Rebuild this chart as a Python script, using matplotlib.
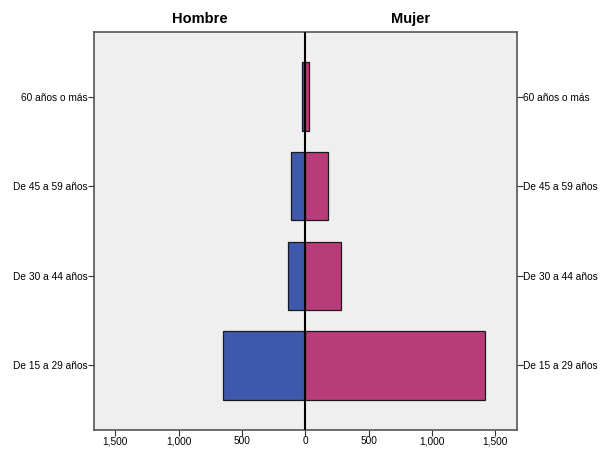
import matplotlib
matplotlib.use("Agg")
import matplotlib.pyplot as plt
from matplotlib.ticker import FixedLocator, FuncFormatter

plt.rcParams['font.family'] = ['Liberation Sans', 'DejaVu Sans']

categories = ["De 15 a 29 años", "De 30 a 44 años", "De 45 a 59 años", "60 años o más"]
hombre = [653, 134, 116, 29]
mujer = [1415, 282, 176, 32]
xticks = [-1500, -1000, -500, 0, 500, 1000, 1500]

fig = plt.figure(figsize=(6.01, 4.49), dpi=100)
ax = fig.add_axes([94/601, 19/449, 422.7/601, 398/449])
ax.set_facecolor("#efefef")

pos = list(range(len(categories)))
ax.barh(pos, [-h for h in hombre], height=0.76, color="#3e58ac",
        edgecolor="#1a1a1a", linewidth=0.9, zorder=2)
ax.barh(pos, mujer, height=0.76, color="#b93c7a",
        edgecolor="#1a1a1a", linewidth=0.9, zorder=2)
ax.axvline(0, color="black", linewidth=1.5, zorder=3)

ax.set_xlim(-1668, 1668)
ax.set_ylim(-0.72, 3.72)
ax.xaxis.set_major_locator(FixedLocator(xticks))
ax.xaxis.set_major_formatter(FuncFormatter(lambda v, p: f"{abs(int(v)):,}"))
ax.set_yticks(pos)
ax.set_yticklabels(categories)
ax.tick_params(axis='both', labelsize=7.3, length=4, width=0.8, color="#333333",
               direction='out', pad=0.5)
ax.tick_params(axis='y', left=True, right=True, labelleft=True, labelright=True)

for s in ax.spines.values():
    s.set_color("#555555")
    s.set_linewidth(1.2)

fig.text(200/601, 1 - 19/449, "Hombre", ha='center', va='center',
         fontsize=10.5, fontweight='bold')
fig.text(411/601, 1 - 19/449, "Mujer", ha='center', va='center',
         fontsize=10.5, fontweight='bold')

fig.savefig("out.png", dpi=100)
